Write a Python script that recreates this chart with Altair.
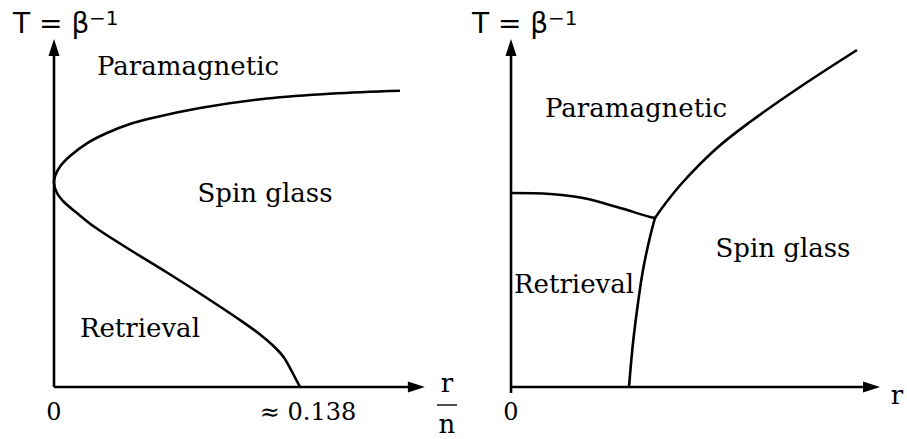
import altair as alt
import pandas as pd

# ---- Left panel: Hopfield phase boundary in the (r/n, T) plane ----
left_load = [0.1941, 0.1565, 0.1195, 0.0819, 0.0539, 0.0426, 0.0297, 0.0185,
             0.0090, 0.0034, 0.0006, 0.0, 0.0017, 0.0056, 0.0129, 0.0224,
             0.0410, 0.0634, 0.0819, 0.1043, 0.1156, 0.1240, 0.1290, 0.1330,
             0.138]
left_temp = [1.4815, 1.4675, 1.4425, 1.395, 1.3425, 1.315, 1.27, 1.2185,
             1.155, 1.1025, 1.055, 1.02, 0.97, 0.925, 0.87, 0.8025,
             0.695, 0.5725, 0.4675, 0.335, 0.2625, 0.1975, 0.1475, 0.085,
             0.0]

left_regions = ["Paramagnetic", "Spin glass", "Retrieval"]
left_region_x = [0.0752, 0.1184, 0.0482]
left_region_y = [1.56, 0.9265, 0.2515]

left_ticks = ["0", "≈ 0.138"]
left_tick_x = [0.0, 0.1425]
left_tick_y = [-0.165, -0.165]

# ---- Right panel: three boundaries meeting at a triple point ----
retr_para_r = [0.0, 0.39, 0.72, 1.06, 1.39, 1.44]
retr_para_t = [0.97, 0.965, 0.945, 0.90, 0.85, 0.845]
para_sg_r = [1.44, 1.54, 1.72, 2.06, 2.39, 2.89, 3.46]
para_sg_t = [0.845, 0.915, 1.025, 1.195, 1.325, 1.50, 1.685]
retr_sg_r = [1.44, 1.39, 1.32, 1.27, 1.22, 1.18]
retr_sg_t = [0.845, 0.75, 0.585, 0.42, 0.22, 0.0]

right_regions = ["Paramagnetic", "Spin glass", "Retrieval"]
right_region_x = [1.25, 2.72, 0.63]
right_region_y = [1.3515, 0.6515, 0.4685]

right_ticks = ["0"]
right_tick_x = [0.0]
right_tick_y = [-0.165]

SERIF = "DejaVu Serif"
SANS = "DejaVu Sans"
LINE_W = 2.6
# arrowheads: tip sits on the data point, body trails behind it
ARROW_RIGHT = "M0 0 L-2 -0.65 L-2 0.65 Z"
ARROW_UP = "M0 0 L-0.65 2 L0.65 2 Z"
Y_DOMAIN = [-0.26, 1.935]
Y_TIP = 1.74


def xy(xdom):
    return dict(
        x=alt.X("x:Q", scale=alt.Scale(domain=xdom, nice=False, zero=False), axis=None),
        y=alt.Y("y:Q", scale=alt.Scale(domain=Y_DOMAIN, nice=False, zero=False), axis=None),
    )


def frame(xs, ys):
    return pd.DataFrame({"x": xs, "y": ys, "i": list(range(len(xs)))})


def labels(names, xs, ys):
    return pd.DataFrame({"x": xs, "y": ys, "label": names})


def text_layer(df, enc, font, size, align="center"):
    return alt.Chart(df).mark_text(font=font, fontSize=size, align=align,
                                   baseline="alphabetic", color="black").encode(
        **enc, text="label:N")


def build(xdom, x_tip, x_rule_end, y_start, curves, regions, ticks,
          title_x, sup_x, extra):
    enc = xy(xdom)
    layers = [
        # horizontal and vertical axes drawn as arrows
        alt.Chart(pd.DataFrame({"x": [0.0], "y": [0.0], "x2": [x_rule_end], "y2": [0.0]}))
        .mark_rule(color="black", strokeWidth=LINE_W).encode(**enc, x2="x2:Q", y2="y2:Q"),
        alt.Chart(pd.DataFrame({"x": [0.0], "y": [y_start], "x2": [0.0], "y2": [Y_TIP - 0.05]}))
        .mark_rule(color="black", strokeWidth=LINE_W).encode(**enc, x2="x2:Q", y2="y2:Q"),
        alt.Chart(pd.DataFrame({"x": [x_tip], "y": [0.0]})).mark_point(
            shape=ARROW_RIGHT, size=289, filled=True, color="black", opacity=1,
            strokeWidth=0).encode(**enc),
        alt.Chart(pd.DataFrame({"x": [0.0], "y": [Y_TIP]})).mark_point(
            shape=ARROW_UP, size=289, filled=True, color="black", opacity=1,
            strokeWidth=0).encode(**enc),
    ]
    for df in curves:
        layers.append(
            alt.Chart(df).mark_line(color="black", strokeWidth=LINE_W,
                                    interpolate="catmull-rom").encode(
                **enc, order="i:Q"))
    layers.append(text_layer(regions, enc, SERIF, 26))
    layers.append(text_layer(ticks, enc, SERIF, 24))
    layers.append(text_layer(labels(["T = β"], [title_x], [1.77]), enc, SANS, 28, "left"))
    layers.append(text_layer(labels(["−1"], [sup_x], [1.81]), enc, SANS, 20, "left"))
    layers.extend(extra(enc))
    return alt.layer(*layers)


# Left panel
LEFT_X = [-0.0303, 0.2306]


def left_extra(enc):
    # axis title r/n as a stacked fraction
    return [
        text_layer(labels(["r", "n"], [0.2205, 0.2205], [-0.025, -0.23]), enc, SERIF, 26),
        alt.Chart(pd.DataFrame({"x": [0.2149], "x2": [0.2261], "y": [-0.09]}))
        .mark_rule(color="black", strokeWidth=1.4).encode(**enc, x2="x2:Q"),
    ]


left = build(
    LEFT_X, 0.2081, 0.2025, 0.0,
    [frame(left_load, left_temp)],
    labels(left_regions, left_region_x, left_region_y),
    labels(left_ticks, left_tick_x, left_tick_y),
    -0.023, 0.0196, left_extra,
).properties(width=465, height=439)

# Right panel
RIGHT_X = [-0.46, 3.96]


def right_extra(enc):
    return [text_layer(labels(["r"], [3.86], [-0.085]), enc, SERIF, 26)]


right = build(
    RIGHT_X, 3.69, 3.59, -0.03,
    [frame(retr_para_r, retr_para_t), frame(para_sg_r, para_sg_t),
     frame(retr_sg_r, retr_sg_t)],
    labels(right_regions, right_region_x, right_region_y),
    labels(right_ticks, right_tick_x, right_tick_y),
    -0.39, 0.37, right_extra,
).properties(width=442, height=439)

chart = (
    alt.hconcat(left, right, spacing=0)
    .properties(padding=0, background="white")
    .configure_view(stroke=None)
    .configure_concat(spacing=0)
)

chart.save("out.html", embed_options={"renderer": "svg", "actions": False})
